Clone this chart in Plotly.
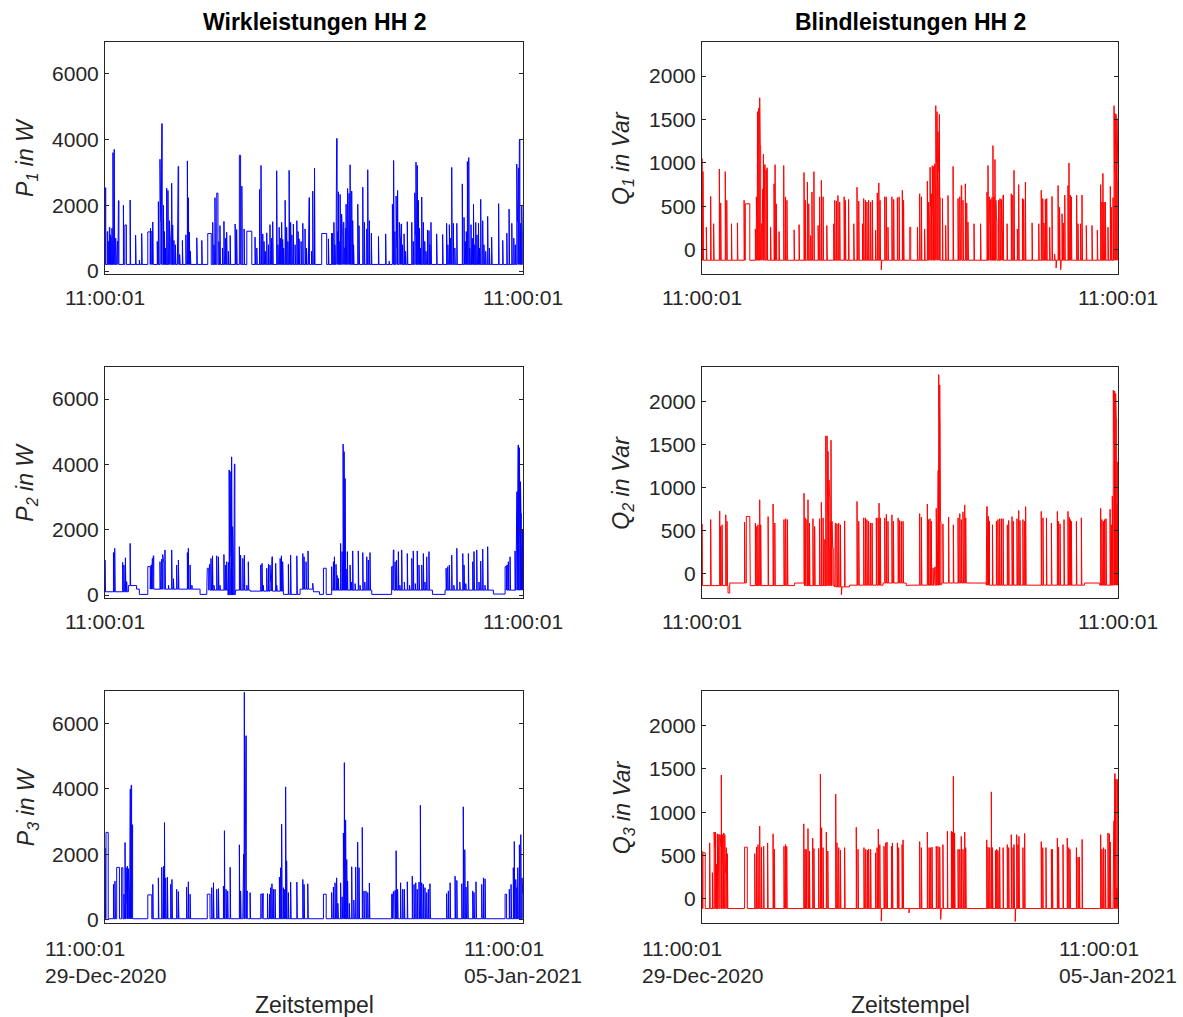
import bisect
import pandas as pd
import plotly.graph_objects as go
from plotly.subplots import make_subplots

# ---------------------------------------------------------------------------
# Measurement window: one week starting 29-Dec-2020 11:00:01
# Times are given in hours since the start of the window.
# spikes: (hour, value)   short switching events
# blocks: (hour, duration_h, value)   longer constant-load periods
# base:   (hour, value)   standby level between events
# ---------------------------------------------------------------------------
START = pd.Timestamp("2020-12-29 11:00:01")
SPAN_H = 168.0
SPIKE_H = 0.2

tick_time = ["11:00:01", "11:00:01"]
tick_date = ["29-Dec-2020", "05-Jan-2021"]

# ---- active power, phase 1 (W)
p1_base = [(0, 200)]
p1_blocks = [(8.0, 0.6, 1400), (17.2, 1.0, 1190), (18.6, 0.5, 1200), (41.3, 1.4, 1140),
             (44.9, 0.5, 2370), (54.0, 0.5, 3520), (57.0, 2.0, 1210), (87.1, 2.0, 1140)]
p1_spikes = [(0.1, 2530), (0.9, 1200), (1.3, 900), (1.75, 1330), (2.0, 1100), (2.4, 1030), (2.8, 1300),
             (3.2, 3600), (3.7, 3700), (4.3, 1000), (4.7, 800), (5.0, 900), (5.4, 2140), (7.4, 2000),
             (10.1, 2160), (12.3, 1090), (13.8, 330), (14.75, 1140), (18.3, 1300), (19.2, 1490),
             (21.0, 900), (21.45, 2110), (22.1, 3400), (22.4, 1500), (22.8, 4480), (23.5, 2000),
             (23.9, 1200), (24.3, 700), (24.8, 2520), (25.3, 2450), (25.9, 1530), (26.2, 1000),
             (26.8, 2670), (27.2, 1400), (27.7, 930), (28.3, 800), (29.1, 1330), (29.4, 3180),
             (30.0, 500), (31.1, 930), (32.5, 1100), (33.1, 3350), (33.5, 2230), (33.9, 1180),
             (34.3, 600), (36.9, 1010), (38.9, 930), (43.3, 1480), (43.8, 800), (44.2, 2230),
             (45.8, 900), (46.2, 1380), (47.2, 700), (47.8, 1510), (48.4, 1000), (48.9, 1180),
             (49.6, 600), (50.3, 1080), (52.3, 1430), (52.9, 1260), (55.0, 2580), (55.9, 1280),
             (60.3, 1030), (61.0, 700), (62.1, 2480), (62.7, 3210), (63.4, 1130), (63.9, 900),
             (64.4, 600), (65.0, 1160), (65.7, 800), (66.3, 1410), (66.9, 1000), (67.4, 1500),
             (69.0, 3050), (69.5, 800), (70.0, 1330), (70.5, 1000), (71.0, 1480), (71.4, 960),
             (71.8, 700), (72.4, 2150), (73.0, 1330), (73.5, 900), (74.0, 3060), (74.6, 1480),
             (75.1, 1100), (75.7, 1430), (76.4, 800), (77.1, 1530), (77.6, 1200), (78.0, 980),
             (78.8, 900), (79.5, 1450), (80.4, 1280), (81.0, 700), (81.75, 1480), (82.0, 2230),
             (83.0, 600), (83.5, 2430), (84.2, 3130), (89.8, 980), (91.1, 1150), (91.5, 1150),
             (92.0, 1480), (92.4, 800), (92.85, 2030), (93.1, 4030), (93.5, 1200), (93.8, 2410),
             (94.1, 900), (94.5, 2330), (95.1, 1730), (95.4, 1100), (95.8, 1480), (96.2, 700),
             (96.6, 1300), (96.9, 2030), (97.5, 2510), (97.8, 1000), (98.1, 2360), (98.5, 3230),
             (99.15, 2430), (99.55, 1530), (99.9, 800), (101.6, 2030), (102.1, 1380), (103.6, 2550),
             (104.25, 1480), (105.2, 1280), (105.6, 3080), (106.25, 1530), (107.05, 1150),
             (109.9, 1050), (112.8, 1130), (114.2, 300), (115.5, 2030), (115.8, 900), (116.0, 3360),
             (116.5, 1200), (117.0, 2280), (117.3, 700), (117.6, 2450), (118.3, 1480), (118.6, 1000),
             (119.0, 1430), (119.6, 800), (120.2, 1130), (120.8, 600), (121.5, 1500), (123.3, 1480),
             (123.9, 900), (124.5, 2380), (124.8, 1100), (125.0, 3310), (125.5, 3210), (125.95, 2150),
             (126.4, 1300), (126.8, 700), (127.3, 2250), (127.95, 1480), (128.5, 900), (129.0, 600),
             (129.6, 1250), (130.2, 1230), (130.6, 800), (131.0, 1480), (133.3, 1130), (135.7, 1110),
             (137.3, 1450), (137.8, 800), (138.4, 1410), (138.9, 1000), (139.35, 3150), (140.0, 1450),
             (140.6, 700), (141.4, 1450), (143.6, 2650), (144.3, 1630), (144.8, 900), (145.2, 1200),
             (145.65, 3330), (146.2, 3450), (146.6, 700), (147.1, 1410), (147.6, 1000), (148.1, 2030),
             (148.6, 800), (149.0, 1480), (149.5, 1100), (150.1, 1450), (150.5, 700), (151.0, 2180),
             (151.8, 1530), (152.3, 800), (153.0, 600), (153.8, 1660), (154.5, 700), (155.4, 1030),
             (158.2, 2050), (159.85, 930), (161.5, 1150), (162.4, 1880), (163.5, 1450), (164.3, 1000),
             (164.9, 800), (165.5, 3250), (165.8, 1500), (166.15, 3130), (166.55, 3980), (166.9, 1200),
             (167.1, 1450), (167.5, 2000), (167.7, 1100)]

# ---- active power, phase 2 (W)
p2_base = [(0, 100), (9.4, 290), (12.7, 180), (13.8, 20), (17.4, 180), (38.2, 20), (40.9, 150),
           (49.5, 0), (52.5, 150), (58.3, 120), (71.7, 20), (78.4, 180), (83.8, 100), (86.2, 20),
           (91.1, 150), (107.2, 20), (115.2, 150), (131.6, 20), (136.7, 150), (156.1, 30), (160.8, 150)]
p2_blocks = [(17.2, 1.0, 870), (41.1, 0.6, 820), (87.8, 1.1, 820), (115.2, 0.5, 870), (160.8, 0.5, 870)]
p2_spikes = [(0.0, 1070), (3.4, 1300), (3.9, 1430), (7.1, 1000), (7.6, 920), (8.2, 1140), (8.7, 410),
             (10.1, 1580), (18.5, 920), (19.0, 1120), (19.4, 1200), (22.1, 1020), (22.8, 1100),
             (23.2, 1240), (23.5, 1020), (23.8, 400), (24.1, 1380), (25.5, 300), (26.8, 1380),
             (27.5, 500), (28.8, 920), (29.5, 1070), (33.1, 1300), (33.5, 1430), (34.2, 920),
             (34.9, 300), (42.0, 940), (42.6, 1120), (43.2, 1200), (43.8, 300), (44.9, 1200),
             (45.6, 1170), (46.2, 300), (47.8, 1240), (48.5, 920), (48.9, 1020), (49.6, 1000),
             (49.9, 3830), (50.1, 800), (50.3, 3780), (50.6, 1200), (50.9, 4230), (51.1, 600),
             (51.3, 2090), (51.6, 900), (52.0, 4010), (52.3, 500), (54.0, 1480), (54.5, 1220),
             (55.4, 1120), (56.0, 1220), (57.0, 300), (57.6, 1020), (62.6, 920), (63.1, 970),
             (63.6, 300), (65.0, 820), (65.7, 940), (66.3, 920), (66.6, 400), (67.1, 1170),
             (68.6, 970), (69.0, 300), (70.4, 1120), (70.9, 1200), (71.4, 1020), (73.7, 940),
             (74.6, 1220), (77.1, 1200), (79.5, 1270), (80.0, 1170), (80.8, 1020), (81.6, 1350),
             (83.5, 360), (91.1, 870), (91.8, 1020), (92.2, 1170), (92.85, 940), (93.3, 600),
             (93.8, 510), (94.7, 1580), (95.3, 1330), (95.7, 4620), (96.1, 4390), (96.5, 3570),
             (96.9, 800), (97.4, 1330), (98.5, 920), (99.0, 400), (99.55, 1350), (100.5, 350),
             (101.8, 1350), (102.5, 300), (103.6, 1300), (104.4, 400), (105.2, 1170), (105.85, 1070),
             (106.5, 1300), (115.9, 1380), (116.6, 1020), (117.2, 1070), (117.9, 1330), (118.5, 300),
             (119.25, 1380), (120.3, 400), (121.5, 1270), (122.4, 300), (123.3, 1120), (123.9, 1350),
             (124.7, 350), (125.5, 1350), (126.2, 920), (127.3, 920), (127.95, 1270), (128.6, 400),
             (129.3, 1170), (130.2, 1330), (137.1, 820), (137.75, 870), (138.4, 920), (139.35, 1220),
             (140.2, 300), (141.4, 1430), (142.6, 400), (143.8, 1270), (144.3, 920), (145.0, 350),
             (146.05, 1270), (147.8, 1020), (148.3, 1330), (149.4, 1380), (150.3, 400), (151.0, 1040),
             (151.8, 1410), (152.7, 300), (153.8, 1480), (161.5, 920), (162.1, 1020), (162.8, 1170),
             (164.8, 1350), (165.2, 1500), (165.5, 3160), (165.8, 2500), (166.0, 4590), (166.3, 2000),
             (166.55, 4510), (166.8, 1800), (167.0, 3470), (167.2, 2500), (167.35, 970), (167.6, 1500),
             (167.75, 2000), (167.9, 1200)]

# ---- active power, phase 3 (W)
p3_base = [(0, 30)]
p3_blocks = [(0.4, 0.9, 2670), (4.7, 1.1, 1600), (6.7, 0.5, 1590), (17.2, 1.6, 760), (41.1, 1.1, 780),
             (62.6, 0.5, 780), (87.8, 1.1, 780), (115.2, 0.4, 780), (160.8, 0.6, 780)]
p3_spikes = [(0.0, 2190), (3.4, 1080), (4.0, 1180), (5.9, 600), (7.2, 400), (7.6, 780), (8.05, 2360),
             (8.5, 1590), (8.8, 500), (9.0, 1640), (9.4, 1560), (9.7, 900), (10.1, 3990), (10.3, 1500),
             (10.5, 4110), (10.9, 2900), (19.2, 1080), (21.45, 1280), (22.8, 1600), (23.5, 1630),
             (23.9, 2970), (24.4, 1280), (25.1, 1300), (26.4, 1080), (26.9, 1230), (28.8, 930),
             (29.5, 860), (32.8, 1000), (33.5, 1160), (34.2, 780), (42.9, 980), (43.6, 1130),
             (44.9, 930), (45.6, 950), (47.6, 1030), (48.0, 2720), (48.65, 930), (49.3, 880),
             (50.3, 1600), (54.0, 2290), (54.5, 880), (55.4, 930), (55.7, 2000), (56.0, 6950),
             (56.3, 3000), (56.6, 5620), (56.8, 1500), (57.0, 880), (58.3, 830), (63.4, 800),
             (65.3, 800), (66.1, 780), (66.6, 980), (67.1, 1100), (67.7, 930), (68.35, 930),
             (70.1, 1300), (70.6, 1590), (71.0, 2920), (71.7, 980), (72.2, 930), (72.6, 4060),
             (73.0, 1800), (73.7, 830), (74.6, 1150), (77.1, 1150), (79.5, 1230), (80.0, 1080),
             (81.5, 1100), (91.1, 830), (91.8, 1000), (92.45, 1130), (93.1, 1280), (93.6, 500),
             (94.7, 1130), (95.3, 700), (95.8, 2650), (96.0, 1500), (96.2, 4800), (96.7, 3050),
             (97.15, 1840), (97.5, 1180), (98.2, 500), (99.15, 1620), (100.0, 600), (100.75, 1610),
             (101.55, 2370), (102.1, 1590), (103.4, 2820), (104.1, 880), (104.9, 880), (105.6, 830),
             (106.25, 1120), (115.9, 860), (116.6, 900), (117.0, 2110), (117.6, 930), (118.8, 1130),
             (119.65, 930), (120.3, 930), (121.5, 1160), (123.5, 1330), (124.2, 1080), (124.9, 1130),
             (125.5, 930), (126.2, 1150), (126.75, 3500), (127.3, 1130), (127.95, 1080), (128.6, 980),
             (129.3, 830), (129.95, 930), (130.6, 1100), (137.3, 800), (138.0, 880), (138.7, 1130),
             (140.7, 1330), (141.4, 1200), (143.4, 1100), (144.0, 3450), (144.6, 2140), (145.1, 1000),
             (145.8, 1180), (147.8, 880), (148.3, 830), (149.1, 1160), (151.4, 1080), (152.1, 1280),
             (152.75, 1250), (161.5, 730), (162.5, 930), (163.2, 1080), (164.1, 1590), (164.5, 2390),
             (165.1, 1230), (165.5, 980), (165.9, 1590), (166.55, 2290), (167.1, 2600), (167.6, 1280),
             (167.9, 780)]

# ---- reactive power, phase 1 (Var)
q1_base = [(0, -120)]
q1_blocks = [(17.5, 1.8, 530), (83.9, 0.6, 260)]
q1_spikes = [(0.0, 1050), (0.4, 900), (1.75, 260), (3.5, 615), (4.7, 300), (7.0, 930), (7.55, 540),
             (9.4, 900), (10.0, 570), (11.9, 300), (14.3, 310), (17.0, 570), (21.55, 240), (21.95, 610),
             (22.1, 400), (22.4, 1590), (22.9, 1630), (23.3, 1750), (23.5, 1200), (23.7, 800),
             (24.0, 300), (24.2, 610), (24.5, 700), (24.8, 1100), (25.1, 500), (25.3, 980), (25.6, 400),
             (25.9, 920), (26.1, 600), (26.3, 945), (27.7, 260), (29.1, 760), (29.5, 980), (30.0, 530),
             (31.1, 210), (33.0, 970), (33.7, 610), (34.3, 570), (37.2, 230), (39.2, 290), (41.2, 890),
             (41.7, 570), (42.55, 780), (43.1, 530), (43.9, 165), (44.4, 665), (45.2, 900), (46.9, 280),
             (47.5, 610), (48.2, 800), (48.9, 610), (50.4, 280), (53.2, 300), (53.6, 570), (54.3, 560),
             (54.9, 625), (55.6, 550), (57.4, 610), (57.9, 570), (59.2, 580), (61.3, 300), (62.6, 720),
             (63.3, 560), (64.8, 300), (65.3, 590), (66.0, 570), (66.6, 550), (67.3, 570), (68.1, 550),
             (68.8, 570), (70.1, 225), (70.8, 655), (71.4, 770), (71.9, 570), (72.4, -230), (73.8, 610),
             (74.4, 610), (75.1, 260), (76.7, 610), (77.4, 580), (78.9, 600), (79.6, 610), (80.9, 685),
             (81.4, 570), (84.1, 260), (87.0, 260), (87.9, 645), (88.6, 610), (89.9, 240), (91.0, 790),
             (91.5, 550), (91.8, 300), (92.1, 950), (92.3, 500), (92.6, 645), (93.0, 970), (93.3, 400),
             (93.6, 960), (94.0, 990), (94.2, 700), (94.4, 1660), (94.7, 1000), (94.9, 1590),
             (95.1, 800), (95.3, 1360), (95.6, 900), (95.85, 1560), (96.0, 600), (96.3, 490),
             (97.1, 590), (98.4, 280), (99.35, 625), (101.4, 960), (103.4, 590), (104.1, 610),
             (104.5, 210), (104.7, 740), (105.4, 570), (106.35, 760), (106.9, 540), (107.4, 320),
             (109.85, 300), (112.5, 300), (115.1, 665), (115.5, 970), (116.0, 610), (116.3, 300),
             (116.6, 580), (117.1, 600), (117.5, 1200), (117.9, 610), (118.3, 1040), (118.7, 570),
             (118.9, 350), (119.8, 570), (120.35, 590), (120.9, 580), (121.2, 200), (121.55, 630),
             (123.2, 300), (124.9, 645), (125.5, 630), (126.0, 915), (127.35, 240), (127.9, 750),
             (129.4, 590), (129.9, 580), (130.6, 780), (133.3, 310), (136.0, 300), (137.0, 685),
             (137.6, 590), (138.1, 310), (138.65, 580), (139.2, 590), (140.4, 260), (141.35, 615),
             (142.4, -50), (143.0, -210), (143.8, 740), (144.4, 490), (144.85, -230), (145.4, 415),
             (145.9, 310), (146.5, 630), (147.8, 740), (148.2, 1000), (148.75, 630), (149.15, 610),
             (151.3, 630), (151.85, 300), (152.9, 300), (153.45, 630), (155.2, 280), (157.5, 280),
             (159.65, 225), (161.0, 750), (161.5, 550), (161.9, 880), (162.35, 550), (162.9, 550),
             (163.95, 260), (164.9, 730), (165.3, 490), (166.0, 600), (166.4, 1660), (166.6, 900),
             (166.8, 1570), (167.0, 1200), (167.2, 1560), (167.4, 800), (167.6, 1510), (167.8, 1300),
             (167.9, 1000)]

# ---- reactive power, phase 2 (Var)
q2_base = [(0, -135), (10.5, -220), (11.2, -105), (19.5, -135), (37.4, -105), (41.2, -135),
           (53.6, -150), (59.6, -130), (73.1, -105), (82.5, -135), (83.2, -130), (96.7, -105),
           (114.8, -130), (154.5, -105), (160.6, -130)]
q2_blocks = [(17.9, 1.4, 665)]
q2_spikes = [(0.0, 580), (3.5, 630), (7.15, 730), (7.55, 550), (8.1, 570), (9.6, 685), (10.1, 610),
             (17.2, 600), (21.55, 590), (22.1, 550), (22.6, 570), (23.3, 860), (23.7, 570), (26.7, 665),
             (28.7, 810), (29.4, 590), (33.1, 630), (33.8, 640), (34.5, 630), (41.2, 935), (41.7, 650),
             (42.4, 630), (42.8, 860), (43.4, 590), (44.8, 640), (45.5, 550), (47.5, 640), (48.2, 830),
             (48.9, 650), (49.6, 400), (50.0, 1600), (50.5, 1600), (50.7, 700), (50.9, 1420),
             (51.1, 300), (51.3, 1090), (51.5, 900), (51.7, 510), (51.9, 600), (52.1, 1550), (52.5, 610),
             (52.8, 300), (53.85, 590), (54.5, 580), (55.2, 590), (55.9, 570), (56.3, -240), (57.6, 615),
             (62.6, 840), (63.3, 610), (65.3, 650), (66.0, 650), (66.6, 630), (67.3, 610), (68.1, 590),
             (68.7, 590), (70.4, 650), (71.1, 650), (71.5, 820), (72.0, 650), (73.8, 650), (74.45, 690),
             (75.1, 610), (76.7, 685), (77.3, 610), (79.2, 650), (79.8, 620), (80.5, 610), (81.2, 610),
             (87.9, 700), (88.6, 660), (91.0, 810), (91.5, 630), (92.1, 640), (92.6, 610), (93.3, 70),
             (93.7, 60), (94.0, 80), (94.6, 760), (95.05, 590), (95.3, 1200), (95.6, 2310), (95.8, 1800),
             (96.0, 2190), (96.3, 610), (97.3, 580), (99.6, 660), (101.5, 570), (103.4, 650),
             (104.1, 700), (104.7, 630), (105.4, 720), (106.1, 800), (106.5, 650), (115.0, 780),
             (115.5, 665), (115.9, 610), (117.3, 570), (118.9, 610), (119.5, 630), (120.2, 640),
             (120.9, 640), (121.6, 640), (123.3, 570), (123.85, 620), (125.2, 665), (125.7, 610),
             (127.2, 640), (127.9, 735), (128.4, 620), (129.6, 630), (130.3, 610), (130.7, 780),
             (137.0, 725), (137.7, 650), (139.1, 650), (141.1, 590), (143.5, 725), (144.0, 610),
             (144.6, 580), (146.2, 630), (147.8, 725), (148.35, 655), (148.75, 630), (149.15, 610),
             (151.2, 610), (153.2, 650), (161.0, 760), (161.5, 630), (162.1, 610), (162.6, 630),
             (163.15, 640), (164.8, 750), (165.3, 570), (165.7, 900), (166.1, 2130), (166.4, 1500),
             (166.65, 2120), (166.9, 1200), (167.05, 2090), (167.3, 1800), (167.45, 1530), (167.7, 800),
             (167.9, 1300)]

# ---- reactive power, phase 3 (Var)
q3_base = [(0, -115)]
q3_blocks = [(0.4, 0.9, 530), (17.2, 2.1, 595)]
q3_spikes = [(0.0, 550), (3.1, 645), (4.2, 300), (4.9, 770), (5.1, 600), (5.4, 770), (5.8, 400),
             (6.2, 750), (6.5, 700), (6.75, 740), (7.0, 500), (7.3, 740), (7.6, 600), (7.8, 1430),
             (8.2, 740), (8.5, 400), (8.8, 760), (9.2, 740), (9.5, 300), (9.85, 590), (10.0, 200),
             (10.25, 520), (18.3, 550), (21.3, 520), (22.0, 595), (22.6, 625), (23.3, 840), (24.0, 595),
             (24.9, 605), (26.5, 645), (28.7, 750), (29.2, 570), (33.1, 605), (33.7, 625), (34.2, 605),
             (41.1, 865), (41.6, 570), (42.1, 570), (42.8, 810), (43.4, 550), (44.7, 700), (45.2, 580),
             (47.1, 580), (47.8, 1440), (48.3, 820), (48.9, 590), (50.2, 770), (50.8, 550), (54.0, 1210),
             (54.5, 645), (55.2, 590), (55.9, 560), (57.6, 590), (62.3, 825), (63.0, 570), (65.4, 590),
             (66.1, 570), (66.8, 560), (67.3, 575), (68.1, 570), (70.1, 530), (70.7, 590), (71.2, 805),
             (71.8, 625), (72.4, -260), (73.5, 605), (74.2, 645), (74.7, 655), (76.5, 605), (76.9, 645),
             (78.9, 645), (79.4, 590), (80.8, 625), (81.2, 680), (83.6, -165), (87.9, 660), (88.6, 590),
             (91.0, 770), (91.7, 590), (92.35, 590), (92.9, 595), (94.6, 605), (95.3, 605), (96.0, 595),
             (96.4, -240), (97.3, 625), (99.1, 780), (100.7, 780), (101.1, 770), (101.5, 1415),
             (102.0, 760), (103.4, 570), (104.1, 570), (104.7, 720), (105.4, 570), (106.1, 770),
             (106.5, 590), (115.0, 680), (115.5, 595), (116.2, 590), (116.85, 1235), (117.3, 590),
             (118.5, 555), (119.0, 570), (119.5, 555), (120.2, 595), (121.6, 590), (123.3, 625),
             (123.85, 590), (124.9, 740), (125.6, 590), (126.0, 625), (126.5, -265), (127.1, 740),
             (127.6, 625), (128.0, 720), (129.6, 590), (130.3, 755), (137.0, 660), (137.6, 590),
             (138.9, 590), (141.1, 570), (141.5, 570), (143.5, 700), (144.0, 595), (145.8, 625),
             (147.5, 700), (148.1, 590), (148.6, 570), (151.2, 590), (151.85, 480), (152.4, 480),
             (153.5, 685), (161.0, 740), (161.5, 570), (162.2, 590), (162.9, 570), (163.95, 760),
             (164.5, 750), (164.9, 655), (166.0, 780), (166.3, 900), (166.65, 1445), (166.9, 600),
             (167.05, 1380), (167.45, 120), (167.7, 1380), (167.9, 1000)]


def build(spikes, blocks, base):
    """Turn event lists into a step-shaped time series (timestamps, values)."""
    ev = sorted([(t, SPIKE_H, v) for t, v in spikes] + [tuple(b) for b in blocks])
    bt = [k for k, _ in base]
    bv = [v for _, v in base]

    def level(t):
        return bv[max(bisect.bisect_right(bt, t) - 1, 0)]

    xs, ys = [0.0], [level(0.0)]

    def run_base(t_from, t_to):
        # hold the standby level, stepping at each change point
        for k in bt:
            if t_from < k < t_to:
                xs.extend([k, k])
                ys.extend([level(k - 1e-6), level(k)])
        xs.append(t_to)
        ys.append(level(t_to - 1e-6))

    cur = 0.0
    for i, (t0, w, v) in enumerate(ev):
        t0 = min(max(t0, cur), SPAN_H)
        t1 = t0 + w
        if i + 1 < len(ev):
            t1 = min(t1, ev[i + 1][0])
        t1 = min(max(t1, t0), SPAN_H)
        run_base(cur, t0)
        xs.extend([t0, t1, t1])
        ys.extend([v, v, level(t1)])
        cur = t1
    run_base(cur, SPAN_H)
    stamps = [START + pd.Timedelta(hours=h) for h in xs]
    return stamps, ys


FONT = "Liberation Sans, Arial, Helvetica, sans-serif"
TXT = "#262626"
BLUE = "#0000ff"
RED = "#ff0000"
END = START + pd.Timedelta(hours=SPAN_H)

fig = make_subplots(rows=3, cols=2)

panels = [
    (1, 1, p1_spikes, p1_blocks, p1_base, BLUE),
    (1, 2, q1_spikes, q1_blocks, q1_base, RED),
    (2, 1, p2_spikes, p2_blocks, p2_base, BLUE),
    (2, 2, q2_spikes, q2_blocks, q2_base, RED),
    (3, 1, p3_spikes, p3_blocks, p3_base, BLUE),
    (3, 2, q3_spikes, q3_blocks, q3_base, RED),
]
for r, c, sp, bl, ba, col in panels:
    x, y = build(sp, bl, ba)
    fig.add_trace(go.Scatter(x=x, y=y, mode="lines", line=dict(color=col, width=1),
                             showlegend=False, hoverinfo="skip"), row=r, col=c)

W, H = 1183, 1017
x_dom = {1: [105 / W, 523 / W], 2: [702 / W, 1118 / W]}
y_px = {1: (41.5, 274.3), 2: (367, 598.3), 3: (691.3, 923)}
y_dom = {r: [1 - b / H, 1 - t / H] for r, (t, b) in y_px.items()}

axis_common = dict(showline=True, linecolor=TXT, linewidth=1, mirror="ticks", ticks="inside",
                   ticklen=4, tickcolor=TXT, showgrid=False, zeroline=False, automargin=False,
                   tickfont=dict(family=FONT, size=21, color=TXT))

for r in (1, 2, 3):
    for c in (1, 2):
        fig.update_xaxes(domain=x_dom[c], range=[START, END], tickvals=[START, END],
                         ticktext=tick_time, showticklabels=(r != 3), ticklabelstandoff=4,
                         row=r, col=c, **axis_common)
        if c == 1:
            fig.update_yaxes(domain=y_dom[r], range=[-100, 6980], tickvals=[0, 2000, 4000, 6000],
                             ticklabelstandoff=1, row=r, col=c, **axis_common)
        else:
            fig.update_yaxes(domain=y_dom[r], range=[-282, 2398],
                             tickvals=[0, 500, 1000, 1500, 2000], ticklabelstandoff=1,
                             row=r, col=c, **axis_common)

ann = []
col_center = {1: (105 + 523) / 2 / W, 2: (702 + 1118) / 2 / W}
for c, title in ((1, "Wirkleistungen HH 2"), (2, "Blindleistungen HH 2")):
    ann.append(dict(text=f"<b>{title}</b>", x=col_center[c], y=1 - 22 / H, xref="paper", yref="paper",
                    xanchor="center", yanchor="middle", showarrow=False,
                    font=dict(family=FONT, size=23, color="#000000")))
    ann.append(dict(text="Zeitstempel", x=col_center[c], y=1 - 1005 / H, xref="paper", yref="paper",
                    xanchor="center", yanchor="middle", showarrow=False,
                    font=dict(family=FONT, size=23, color=TXT)))

ylabels = {1: ("<i>P<sub>{}</sub> in W</i>", 27 / W), 2: ("<i>Q<sub>{}</sub> in Var</i>", 623 / W)}
for r in (1, 2, 3):
    t, b = y_px[r]
    for c in (1, 2):
        fmt, xp = ylabels[c]
        ann.append(dict(text=fmt.format(r), x=xp, y=1 - (t + b) / 2 / H, xref="paper", yref="paper",
                        xanchor="center", yanchor="middle", textangle=-90, showarrow=False,
                        font=dict(family=FONT, size=23, color=TXT)))

# two-line date/time labels under the bottom row
for xr in ("x5", "x6"):
    for stamp, tt, td in zip([START, END], tick_time, tick_date):
        ann.append(dict(text=f"{tt}<br>{td}", x=stamp, y=1 - 961.5 / H, xref=xr, yref="paper",
                        xanchor="center", yanchor="middle", align="left", showarrow=False,
                        font=dict(family=FONT, size=21, color=TXT)))

fig.update_layout(width=W, height=H, margin=dict(l=0, r=0, t=0, b=0),
                  paper_bgcolor="white", plot_bgcolor="white", annotations=ann,
                  font=dict(family=FONT, size=21, color=TXT))

fig.write_html("out.html")
